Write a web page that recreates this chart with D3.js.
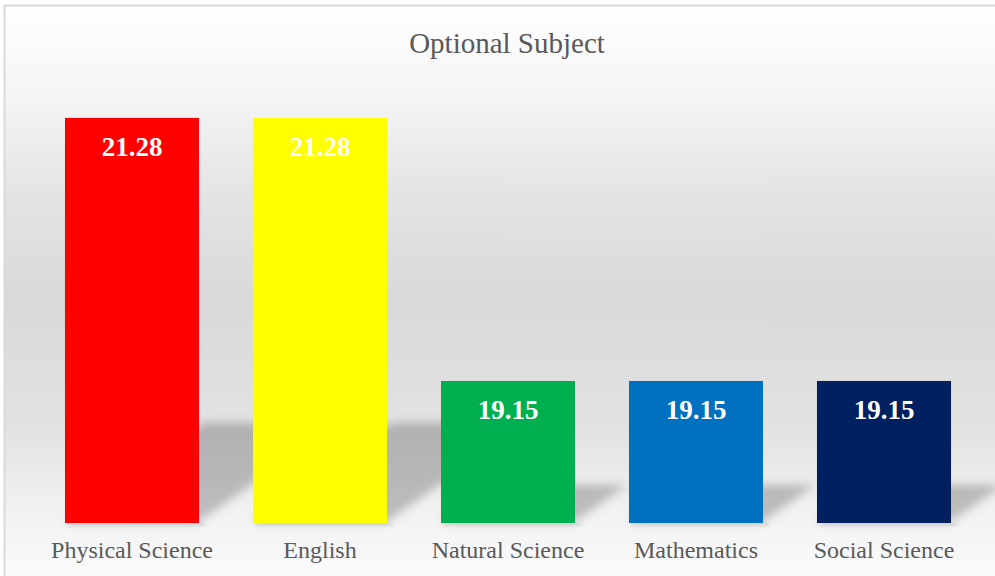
<!DOCTYPE html>
<html>
<head>
<meta charset="utf-8">
<script src="https://cdn.jsdelivr.net/npm/d3@7"></script>
<style>
  body { margin: 0; background: #fff; }
  svg { display: block; font-family: "Liberation Serif", "Times New Roman", serif; }
</style>
</head>
<body>
<svg id="chart" width="995" height="576"></svg>
<script>
// chart data
const subjects = ["Physical Science", "English", "Natural Science", "Mathematics", "Social Science"];
const percents = [21.28, 21.28, 19.15, 19.15, 19.15];
const barColors = ["#ff0000", "#ffff00", "#00b050", "#0070c0", "#002060"];
const yMin = 18, yMax = 22;

const W = 995, H = 576;
const svg = d3.select("#chart");
const defs = svg.append("defs");

// background gradient, white -> grey -> white
const bg = defs.append("linearGradient").attr("id", "bg")
    .attr("x1", 0).attr("y1", 0).attr("x2", 0).attr("y2", 1);
[[0, "#ffffff"], [0.15, "#f5f5f5"], [0.32, "#e4e4e4"], [0.5, "#d9d9d9"],
 [0.72, "#e2e2e2"], [0.88, "#f3f3f3"], [1, "#fdfdfd"]]
  .forEach(s => bg.append("stop").attr("offset", s[0]).attr("stop-color", s[1]));

defs.append("filter").attr("id", "blur")
    .attr("x", "-40%").attr("y", "-40%").attr("width", "180%").attr("height", "180%")
  .append("feGaussianBlur").attr("stdDeviation", 5);
defs.append("filter").attr("id", "blur2")
    .attr("x", "-20%").attr("y", "-200%").attr("width", "140%").attr("height", "500%")
  .append("feGaussianBlur").attr("stdDeviation", 1.5);

svg.append("rect")
    .attr("x", 4.5).attr("y", 5.5).attr("width", W + 10).attr("height", H + 10)
    .attr("fill", "url(#bg)")
    .attr("stroke", "#d9d9d9").attr("stroke-width", 2);

svg.append("text")
    .attr("x", 507).attr("y", 53)
    .attr("text-anchor", "middle")
    .attr("fill", "#595959")
    .style("font-size", "29px")
    .text("Optional Subject");

let x = d3.scaleBand().domain(subjects).range([38, 978]).paddingInner(0.287).paddingOuter(0.1435);
let y = d3.scaleLinear().domain([yMin, yMax]).range([523, 29]);

const rows = subjects.map((s, i) => ({ name: s, value: percents[i], color: barColors[i] }));

// perspective shadows thrown back to the upper right
svg.append("g").selectAll("path")
  .data(rows)
  .enter().append("path")
    .attr("filter", "url(#blur)")
    .attr("fill", "rgba(0,0,0,0.22)")
    .attr("d", function(d) {
        let x0 = x(d.name), x1 = x0 + x.bandwidth();
        let b = y(yMin) - 1, h = b - y(d.value);
        let sh = h * 0.235 + 4, dx = sh * 1.4;
        return "M" + x0 + "," + b + "L" + x1 + "," + b +
               "L" + (x1 + dx) + "," + (b - sh) + "L" + (x0 + dx) + "," + (b - sh) + "Z";
    });

// faint contact shadow under each bar
svg.append("g").selectAll("rect")
  .data(rows)
  .enter().append("rect")
    .attr("filter", "url(#blur2)")
    .attr("x", d => x(d.name) + 2)
    .attr("y", y(yMin))
    .attr("width", x.bandwidth() + 4)
    .attr("height", 3)
    .attr("fill", "rgba(0,0,0,0.08)");

svg.append("g").selectAll("rect")
  .data(rows)
  .enter().append("rect")
    .attr("x", d => x(d.name))
    .attr("y", d => y(d.value))
    .attr("width", x.bandwidth())
    .attr("height", d => y(yMin) - y(d.value))
    .attr("fill", d => d.color);

// value labels inside top of bars
svg.append("g").selectAll("text")
  .data(rows)
  .enter().append("text")
    .attr("x", d => x(d.name) + x.bandwidth() / 2)
    .attr("y", d => y(d.value) + 38)
    .attr("text-anchor", "middle")
    .attr("fill", "#ffffff")
    .style("font-size", "27px")
    .style("font-weight", "bold")
    .text(d => d3.format(".2f")(d.value));

// category axis, no line or ticks
const xAxis = svg.append("g")
    .attr("transform", "translate(0," + y(yMin) + ")")
    .call(d3.axisBottom(x).tickSize(0).tickPadding(0));
xAxis.select(".domain").remove();
xAxis.selectAll("text")
    .attr("dy", null)
    .attr("y", 35)
    .attr("fill", "#595959")
    .style("font-family", "Liberation Serif, Times New Roman, serif")
    .style("font-size", "24px");
</script>
</body>
</html>
